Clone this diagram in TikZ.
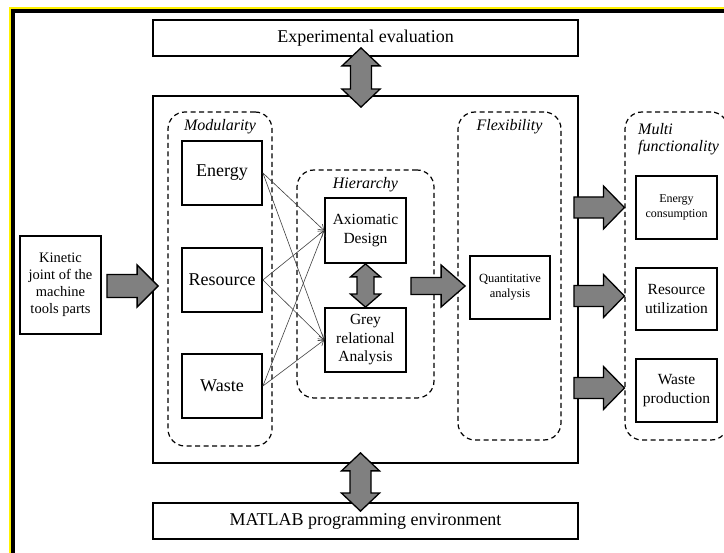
\documentclass[tikz,border=0pt]{standalone}
\usepackage{fontspec}
\setmainfont{Liberation Serif}
\usetikzlibrary{calc,arrows.meta}

\tikzset{
  box/.style={draw=black, line width=1.8pt, fill=white, inner sep=0pt, align=center},
  group/.style={draw=black, line width=1.2pt, dash pattern=on 5pt off 3.5pt,
    rounded corners=17pt, inner sep=0pt},
  grouplabel/.style={font=\fontsize{16}{18}\selectfont\itshape, inner sep=0pt},
  link/.style={draw=black!75, line width=0.6pt, -{Straight Barb[length=5pt,width=7pt]}},
  blockfill/.style={draw=black, line width=1.3pt, fill=black!50, line join=miter},
  % horizontal block arrow: shaft half-width, head half-width, head length
  hblock/.style n args={3}{blockfill, to path={
    let \p1=(\tikztostart), \p2=(\tikztotarget) in
    (\x1,\y1+#1) -- (\x2-#3,\y1+#1) -- (\x2-#3,\y1+#2) -- (\x2,\y1)
    -- (\x2-#3,\y1-#2) -- (\x2-#3,\y1-#1) -- (\x1,\y1-#1) -- cycle}},
  % vertical double block arrow, drawn from the upper tip to the lower tip
  vdouble/.style n args={3}{blockfill, to path={
    let \p1=(\tikztostart), \p2=(\tikztotarget) in
    (\x1,\y1) -- (\x1+#2,\y1-#3) -- (\x1+#1,\y1-#3) -- (\x1+#1,\y2+#3)
    -- (\x1+#2,\y2+#3) -- (\x1,\y2) -- (\x1-#2,\y2+#3) -- (\x1-#1,\y2+#3)
    -- (\x1-#1,\y1-#3) -- (\x1-#2,\y1-#3) -- cycle}},
  big/.style={font=\fontsize{18}{20}\selectfont},
  mid/.style={font=\fontsize{15.5}{18.5}\selectfont},
  small/.style={font=\fontsize{12.5}{15}\selectfont},
}

\begin{document}
\begin{tikzpicture}[x=1pt,y=-1pt]
\useasboundingbox (0,0) rectangle (724,553);
\fill[white] (0,0) rectangle (724,553);

% page frame
\draw[yellow, line width=2.5pt] (10,560) -- (10,8) -- (730,8);
\draw[black, line width=3.5pt] (13,560) -- (13,11) -- (730,11);

% outer boxes
\node[box, big, minimum width=425pt, minimum height=36pt] (exp) at (365.5,38) {Experimental evaluation};
\node[box, minimum width=425pt, minimum height=367pt] (main) at (365.5,279.5) {};
\node[box, big, minimum width=425pt, minimum height=36pt] (matlab) at (365.5,521) {MATLAB programming environment};
\node[box, font=\fontsize{14.5}{17}\selectfont, minimum width=81pt, minimum height=98pt] (kin) at (60.5,285)
  {Kinetic\\joint of the\\machine\\tools parts};

% modularity group
\node[group, minimum width=104pt, minimum height=334pt] (modg) at (220,279) {};
\node[grouplabel] (modl) at (220,127) {Modularity};
\node[box, big, minimum width=80pt, minimum height=64pt] (energy) at (222,173) {Energy};
\node[box, big, minimum width=80pt, minimum height=64pt] (resource) at (222,280) {Resource};
\node[box, big, minimum width=80pt, minimum height=64pt] (waste) at (222,386) {Waste};

% hierarchy group
\node[group, minimum width=137pt, minimum height=228pt] (hierg) at (365.5,284) {};
\node[grouplabel] (hierl) at (365.5,185) {Hierarchy};
\node[box, mid, minimum width=81pt, minimum height=65pt] (axio) at (365.5,230.5) {Axiomatic\\Design};
\node[box, mid, minimum width=81pt, minimum height=64pt] (grey) at (365.5,340) {Grey\\relational\\Analysis};

% flexibility group
\node[group, minimum width=103pt, minimum height=328pt] (flexg) at (509.5,276) {};
\node[grouplabel] (flexl) at (509.5,127) {Flexibility};
\node[box, small, minimum width=80pt, minimum height=63pt] (quant) at (510,287.5) {Quantitative\\analysis};

% multi functionality group
\node[group, minimum width=103pt, minimum height=328pt] (multig) at (676.5,276) {};
\node[grouplabel, anchor=west] (multil) at (638,129) {Multi};
\node[grouplabel, anchor=west] (funcl) at (638,148) {functionality};
\node[box, font=\fontsize{12}{14.5}\selectfont, minimum width=81pt, minimum height=63pt] (econs) at (676.5,207.5) {Energy\\consumption};
\node[box, mid, minimum width=81pt, minimum height=62pt] (rutil) at (676.5,299) {Resource\\utilization};
\node[box, mid, minimum width=81pt, minimum height=63pt] (wprod) at (676.5,390.5) {Waste\\production};

% links from the modularity factors to the hierarchy methods
\foreach \s in {energy,resource,waste}{
  \draw[link] (\s.east) -- (axio.west);
  \draw[link] (\s.east) -- (grey.west);
}

% block arrows
\draw[hblock={11.5pt}{21pt}{21pt}] ($(kin.east)+(5,1)$) to ($(main.west |- kin.east)+(6,1)$);
\draw[hblock={8.5pt}{21pt}{24pt}] ($(axio.east |- quant.west)+(4,-1.5)$) to ($(quant.west)+(-4,-1.5)$);
\draw[hblock={10.5pt}{21.5pt}{21pt}] ($(main.east |- econs)+(-5,0)$) to (multig.west |- econs);
\draw[hblock={10.5pt}{21.5pt}{21pt}] ($(main.east |- rutil)+(-5,-3)$) to ($(multig.west |- rutil)+(0,-3)$);
\draw[hblock={10.5pt}{21.5pt}{21pt}] ($(main.east |- wprod)+(-5,-2.5)$) to ($(multig.west |- wprod)+(0,-2.5)$);

\draw[vdouble={10.5pt}{19pt}{18pt}] ($(exp.south)+(-4.5,-9)$) to ($(main.north)+(-4.5,12)$);
\draw[vdouble={10.5pt}{19pt}{18pt}] ($(main.south)+(-5,-11)$) to ($(matlab.north)+(-5,9)$);
\draw[vdouble={8.5pt}{15pt}{13pt}] (axio.south) to (grey.north);
\end{tikzpicture}
\end{document}
